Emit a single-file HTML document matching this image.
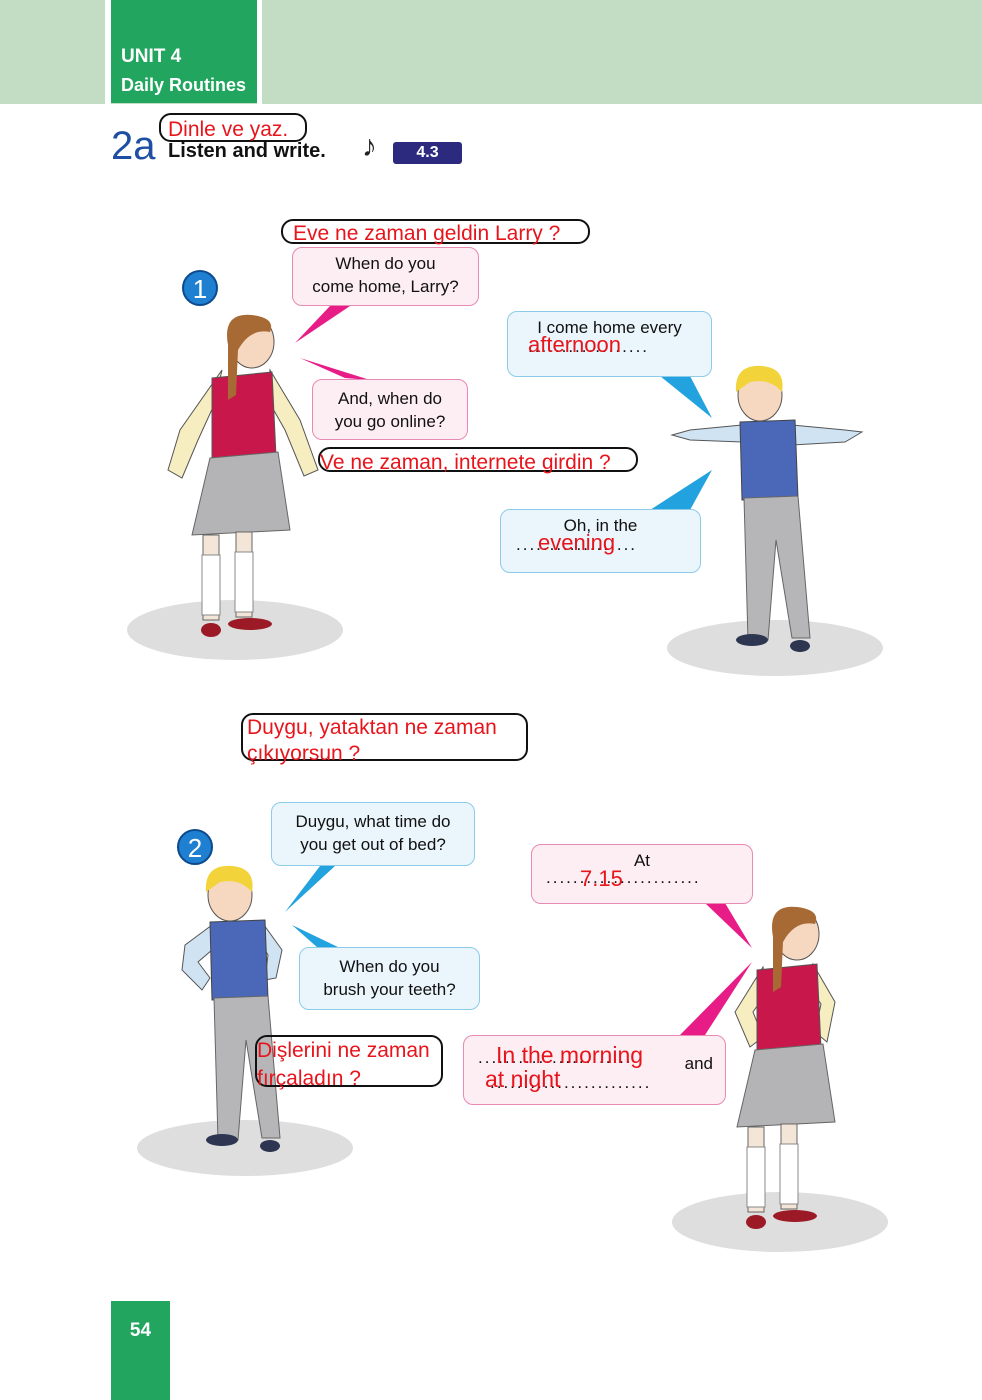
<!DOCTYPE html>
<html><head><meta charset="utf-8"><style>
body{margin:0;width:982px;height:1400px;position:relative;background:#fff;font-family:"Liberation Sans",sans-serif;overflow:hidden}
.abs{position:absolute}
.red{color:#e8141b;font-family:"Liberation Sans",sans-serif}
.pb{position:absolute;background:#fdeef4;border:1.5px solid #e88ab3;border-radius:10px;box-sizing:border-box;text-align:center;font-size:17px;line-height:23px;color:#111}
.bb{position:absolute;background:#eaf5fc;border:1.5px solid #8ccbea;border-radius:10px;box-sizing:border-box;text-align:center;font-size:17px;line-height:23px;color:#111}
.ob{position:absolute;border:2px solid #111;border-radius:12px;box-sizing:border-box;color:#e8141b;font-size:21px;line-height:26px;white-space:nowrap}
.dots{letter-spacing:2px;color:#111}
</style></head><body>
<div class="abs" style="left:0;top:0;width:982px;height:104px;background:#c2ddc4"></div>
<div class="abs" style="left:105px;top:0;width:6px;height:104px;background:#fff"></div>
<div class="abs" style="left:111px;top:0;width:146px;height:103px;background:#21a55f"></div>
<div class="abs" style="left:257px;top:0;width:5px;height:104px;background:#fff"></div>
<div class="abs" style="left:121px;top:46px;color:#fff;font-weight:bold;font-size:19px">UNIT 4</div>
<div class="abs" style="left:121px;top:75px;color:#fff;font-weight:bold;font-size:18px">Daily Routines</div>
<div class="abs" style="left:111px;top:124px;color:#1f4fa2;font-size:40px;line-height:44px">2a</div>
<div class="ob" style="left:159px;top:113px;width:148px;height:29px;font-size:21px;padding-left:7px;line-height:30px">Dinle ve yaz.</div>
<div class="abs" style="left:168px;top:140px;font-weight:bold;font-size:20px;color:#111">Listen and write.</div>
<div class="abs" style="left:362px;top:130px;font-size:30px;color:#222">♪</div>
<div class="abs" style="left:393px;top:142px;width:69px;height:22px;background:#2c2a7e;border-radius:3px;color:#fff;font-weight:bold;font-size:16px;text-align:center;line-height:22px">4.3</div>

<svg class="abs" style="left:0;top:0" width="982" height="1400">
<defs>
<g id="girlbody">
<ellipse cx="235" cy="630" rx="108" ry="30" fill="#dedede"/>
<path d="M212 378 L272 372 L276 456 L212 460Z" fill="#c8174a" stroke="#555" stroke-width="1"/>
<path d="M210 458 L278 452 L290 530 L192 535Z" fill="#b4b4b6" stroke="#666" stroke-width="1"/>
<rect x="203" y="535" width="16" height="85" fill="#f3e6d8" stroke="#666"/>
<rect x="236" y="532" width="16" height="85" fill="#f3e6d8" stroke="#666"/>
<rect x="202" y="555" width="18" height="60" fill="#fff" stroke="#888"/>
<rect x="235" y="552" width="18" height="60" fill="#fff" stroke="#888"/>
<ellipse cx="211" cy="630" rx="10" ry="7" fill="#9b1a25"/>
<ellipse cx="250" cy="624" rx="22" ry="6" fill="#9b1a25"/>
<ellipse cx="252" cy="342" rx="22" ry="26" fill="#f6d8c0" stroke="#555"/>
<path d="M228 345 Q222 312 252 315 Q276 318 270 332 Q250 328 238 350 L236 395 L228 400Z" fill="#a86a35"/>
</g>
<g id="boybody">
<ellipse cx="775" cy="648" rx="108" ry="28" fill="#dedede"/>
<path d="M740 422 L795 420 L798 498 L742 500Z" fill="#4b68b8" stroke="#444"/>
<path d="M744 498 L798 496 L810 638 L792 638 L776 540 L768 640 L748 640Z" fill="#b6b6b9" stroke="#666"/>
<ellipse cx="752" cy="640" rx="16" ry="6" fill="#2d3550"/>
<ellipse cx="800" cy="646" rx="10" ry="6" fill="#2d3550"/>
<ellipse cx="760" cy="395" rx="22" ry="26" fill="#f6d8c0" stroke="#555"/>
<path d="M736 392 Q734 364 762 366 Q786 368 782 392 Q770 378 750 382Z" fill="#f2d33a"/>
</g>
</defs>
<!-- girl1 arms out -->
<path d="M222 370 L180 430 L168 470 L182 478 L198 440 L214 405Z" fill="#f6edc0" stroke="#555" stroke-width="1"/>
<path d="M270 370 L300 420 L318 470 L304 476 L285 430 L268 400Z" fill="#f6edc0" stroke="#555" stroke-width="1"/>
<use href="#girlbody"/>
<!-- girl2 arms on hips -->
<g transform="translate(545,592)">
<path d="M218 375 L190 420 L205 455 L218 445 L208 420 L222 400Z" fill="#f6edc0" stroke="#555"/>
<path d="M268 372 L290 410 L282 450 L270 440 L276 412 L266 398Z" fill="#f6edc0" stroke="#555"/>
</g>
<use href="#girlbody" transform="translate(545,592)"/>
<!-- boy1 arms out -->
<path d="M742 425 L690 430 L672 435 L690 440 L742 442Z" fill="#cfe3f3" stroke="#555"/>
<path d="M792 425 L845 430 L862 432 L845 442 L792 445Z" fill="#cfe3f3" stroke="#555"/>
<use href="#boybody"/>
<!-- boy2 hands on hips -->
<g transform="translate(-530,500)">
<path d="M742 425 L715 445 L712 470 L732 490 L740 478 L728 462 L742 450Z" fill="#cfe3f3" stroke="#555"/>
<path d="M794 425 L812 450 L806 478 L795 480 L798 455 L792 445Z" fill="#cfe3f3" stroke="#555"/>
</g>
<use href="#boybody" transform="translate(-530,500)"/>
<path d="M295 343 L330 306 L350 306Z" fill="#e71c86"/>
<path d="M300 358 L345 378 L370 380Z" fill="#e71c86"/>
<path d="M660 376 L712 418 L690 376Z" fill="#22a3df"/>
<path d="M650 510 L712 470 L690 510Z" fill="#22a3df"/>
<path d="M285 912 L320 866 L335 866Z" fill="#22a3df"/>
<path d="M292 925 L318 948 L340 948Z" fill="#22a3df"/>
<path d="M705 903 L752 948 L725 903Z" fill="#e71c86"/>
<path d="M680 1035 L752 962 L705 1035Z" fill="#e71c86"/>
<circle cx="200" cy="288" r="17" fill="#1f7fd0" stroke="#0c4a8e" stroke-width="2"/>
<text x="200" y="298" fill="#fff" font-size="26" text-anchor="middle" font-family="Liberation Sans">1</text>
<circle cx="195" cy="847" r="17" fill="#1f7fd0" stroke="#0c4a8e" stroke-width="2"/>
<text x="195" y="857" fill="#fff" font-size="26" text-anchor="middle" font-family="Liberation Sans">2</text>
</svg>

<div class="ob" style="left:281px;top:219px;width:309px;height:25px;padding-left:10px;line-height:26px">Eve ne zaman geldin Larry ?</div>
<div class="pb" style="left:292px;top:247px;width:187px;height:59px;padding-top:4px">When do you<br>come home, Larry?</div>
<div class="bb" style="left:507px;top:311px;width:205px;height:66px;padding-top:4px">I come home every</div>
<div class="abs dots" style="left:528px;top:337px;font-size:17px">..................</div>
<div class="abs red" style="left:528px;top:332px;font-size:22px">afternoon</div>
<div class="pb" style="left:312px;top:379px;width:156px;height:61px;padding-top:7px">And, when do<br>you go online?</div>
<div class="ob" style="left:318px;top:447px;width:320px;height:25px;line-height:28px">Ve ne zaman, internete girdin ?</div>
<div class="bb" style="left:500px;top:509px;width:201px;height:64px;padding-top:4px">Oh, in the</div>
<div class="abs dots" style="left:516px;top:535px;font-size:17px">..................</div>
<div class="abs red" style="left:538px;top:530px;font-size:22px">evening</div>

<div class="ob" style="left:241px;top:713px;width:287px;height:48px;line-height:26px;white-space:normal;padding-left:4px">Duygu, yataktan ne zaman çıkıyorsun ?</div>
<div class="bb" style="left:271px;top:802px;width:204px;height:64px;padding-top:7px">Duygu, what time do<br>you get out of bed?</div>
<div class="pb" style="left:531px;top:844px;width:222px;height:60px;padding-top:4px">At</div>
<div class="abs dots" style="left:546px;top:868px;font-size:17px">.......................</div>
<div class="abs red" style="left:580px;top:866px;font-size:22px">7.15</div>
<div class="bb" style="left:299px;top:947px;width:181px;height:63px;padding-top:7px">When do you<br>brush your teeth?</div>
<div class="ob" style="left:255px;top:1035px;width:188px;height:52px;line-height:28px;white-space:normal">Dişlerini ne zaman fırçaladın ?</div>
<div class="pb" style="left:463px;top:1035px;width:263px;height:70px;padding-top:16px;text-align:right;padding-right:12px">and</div>
<div class="abs dots" style="left:478px;top:1048px;font-size:17px">.......................</div>
<div class="abs dots" style="left:490px;top:1073px;font-size:17px">........................</div>
<div class="abs red" style="left:496px;top:1042px;font-size:23px">In the morning</div>
<div class="abs red" style="left:485px;top:1066px;font-size:23px">at night</div>

<div class="abs" style="left:111px;top:1301px;width:59px;height:99px;background:#21a55f"></div>
<div class="abs" style="left:111px;top:1320px;width:59px;text-align:center;color:#fff;font-weight:bold;font-size:19px">54</div>
</body></html>
